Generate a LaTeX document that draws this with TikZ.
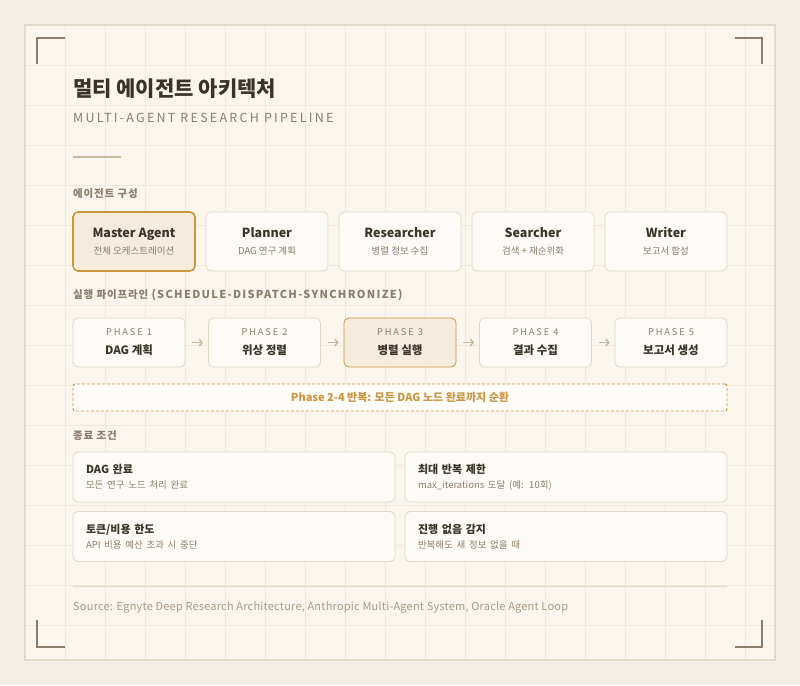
\documentclass[tikz,border=0pt]{standalone}
\usepackage{fontspec}
\setmainfont{Noto Sans CJK KR}
\usepackage{xcolor}
\usetikzlibrary{arrows.meta, positioning}

\definecolor{pagebg}{HTML}{F3EFE7}
\definecolor{cardbg}{HTML}{FAF6EE}
\definecolor{cardline}{HTML}{E2DACB}
\definecolor{gridcol}{HTML}{EFE8DB}
\definecolor{bracket}{HTML}{8B7D6B}
\definecolor{ink}{HTML}{3A3428}
\definecolor{muted}{HTML}{8B7D6B}
\definecolor{soft}{HTML}{A89A85}
\definecolor{accent}{HTML}{C8963E}
\definecolor{accentfill}{HTML}{F5ECDD}
\definecolor{boxfill}{HTML}{FDFBF7}
\definecolor{boxline}{HTML}{E2D8C6}
\definecolor{arrowcol}{HTML}{C8B89A}

\begin{document}
\begin{tikzpicture}[
    x=1pt, y=-1pt,
    % Styles
    agentbox/.style={rectangle, draw=boxline, line width=0.8pt, fill=boxfill, rounded corners=5pt, minimum width=122pt, minimum height=59pt, inner sep=0pt, align=center, text=ink, font=\fontsize{12.5}{17}\selectfont},
    masterbox/.style={agentbox, draw=accent, line width=1.6pt, fill=accentfill},
    phasebox/.style={rectangle, draw=boxline, line width=0.8pt, fill=boxfill, rounded corners=5pt, minimum width=112pt, minimum height=49pt, inner sep=0pt, align=center, text=ink, font=\fontsize{11.5}{19}\selectfont},
    activephase/.style={phasebox, draw=accent, fill=accentfill},
    loopbox/.style={rectangle, draw=accent, line width=0.9pt, dash pattern=on 3pt off 2pt, fill=accent!3, rounded corners=2pt, minimum width=654pt, minimum height=27pt, text=accent, font=\fontsize{11}{12}\selectfont\bfseries},
    condbox/.style={rectangle, draw=boxline, line width=0.8pt, fill=boxfill, rounded corners=5pt, minimum width=322pt, minimum height=50pt, inner xsep=13pt, inner ysep=0pt, text width=296pt, align=left, text=ink, font=\fontsize{11}{15}\selectfont},
    seclabel/.style={anchor=base west, inner sep=0pt, text=muted, font=\fontsize{10.5}{12}\selectfont\bfseries\addfontfeature{LetterSpace=8}},
    flowarrow/.style={-{Straight Barb[length=3pt, width=7pt]}, line width=1.3pt, draw=arrowcol, shorten <=7pt, shorten >=5pt},
    corner/.style={draw=bracket, line width=2pt},
    gridline/.style={draw=gridcol, line width=0.8pt}
]

% Page and card
\fill[pagebg] (0,0) rectangle (800,685);
\useasboundingbox (0,0) rectangle (800,685);
\filldraw[fill=cardbg, draw=cardline, line width=1.5pt] (25,25) rectangle (775,660);

% Background grid
\foreach \gx in {65,105,...,745} \draw[gridline] (\gx,26) -- (\gx,659);
\foreach \gy in {65,105,...,625} \draw[gridline] (26,\gy) -- (774,\gy);

% Corner brackets
\draw[corner] (37,64) -- (37,38) -- (65,38);
\draw[corner] (735,38) -- (762,38) -- (762,64);
\draw[corner] (37,620) -- (37,647) -- (65,647);
\draw[corner] (735,647) -- (762,647) -- (762,620);

% Header
\node[anchor=base west, inner sep=0pt, text=ink, font=\fontsize{21}{24}\selectfont\bfseries] (title) at (73,96) {멀티 에이전트 아키텍처};
\node[anchor=base west, inner sep=0pt, text=muted, font=\fontsize{12.5}{14}\selectfont\addfontfeature{LetterSpace=18}] (subtitle) at (73,122) {MULTI-AGENT RESEARCH PIPELINE};
\draw[draw=arrowcol, line width=2pt] (73,157) -- (121,157);

% Agents
\node[seclabel] (agentlabel) at (73,197.5) {에이전트 구성};

\node[masterbox] (master) at (134,241.5) {\textbf{Master Agent}\\{\fontsize{9.5}{12}\selectfont\color{muted}전체 오케스트레이션}};
\node[agentbox] (planner) at (267,241.5) {\textbf{Planner}\\{\fontsize{9.5}{12}\selectfont\color{muted}DAG 연구 계획}};
\node[agentbox] (researcher) at (400,241.5) {\textbf{Researcher}\\{\fontsize{9.5}{12}\selectfont\color{muted}병렬 정보 수집}};
\node[agentbox] (searcher) at (533,241.5) {\textbf{Searcher}\\{\fontsize{9.5}{12}\selectfont\color{muted}검색 + 재순위화}};
\node[agentbox] (writer) at (666,241.5) {\textbf{Writer}\\{\fontsize{9.5}{12}\selectfont\color{muted}보고서 합성}};

% Pipeline
\node[seclabel] (pipelabel) at (73,298.5) {실행 파이프라인 {\addfontfeature{LetterSpace=12}\fontsize{11}{12}\selectfont(SCHEDULE-DISPATCH-SYNCHRONIZE)}};

\node[phasebox] (phase1) at (129,342.5) {{\fontsize{9.3}{10}\selectfont\addfontfeature{LetterSpace=20}\color{muted}PHASE 1}\\\textbf{DAG 계획}};
\node[phasebox] (phase2) at (264.5,342.5) {{\fontsize{9.3}{10}\selectfont\addfontfeature{LetterSpace=20}\color{muted}PHASE 2}\\\textbf{위상 정렬}};
\node[activephase] (phase3) at (400,342.5) {{\fontsize{9.3}{10}\selectfont\addfontfeature{LetterSpace=20}\color{muted}PHASE 3}\\\textbf{병렬 실행}};
\node[phasebox] (phase4) at (535.5,342.5) {{\fontsize{9.3}{10}\selectfont\addfontfeature{LetterSpace=20}\color{muted}PHASE 4}\\\textbf{결과 수집}};
\node[phasebox] (phase5) at (671,342.5) {{\fontsize{9.3}{10}\selectfont\addfontfeature{LetterSpace=20}\color{muted}PHASE 5}\\\textbf{보고서 생성}};

\draw[flowarrow] (phase1.east) -- (phase2.west);
\draw[flowarrow] (phase2.east) -- (phase3.west);
\draw[flowarrow] (phase3.east) -- (phase4.west);
\draw[flowarrow] (phase4.east) -- (phase5.west);

\node[loopbox] (loop) at (400,397.5) {Phase 2-4 반복: 모든 DAG 노드 완료까지 순환};

% Stop conditions
\node[seclabel] (stoplabel) at (73,439.5) {종료 조건};

\node[condbox] (dagdone) at (234,477) {\textbf{DAG 완료}\\{\fontsize{9.5}{12}\selectfont\color{muted}모든 연구 노드 처리 완료}};
\node[condbox] (maxiter) at (566,477) {\textbf{최대 반복 제한}\\{\fontsize{9.5}{12}\selectfont\color{muted}max\_iterations 도달 (예: 10회)}};
\node[condbox] (budget) at (234,536.5) {\textbf{토큰/비용 한도}\\{\fontsize{9.5}{12}\selectfont\color{muted}API 비용 예산 초과 시 중단}};
\node[condbox] (noprogress) at (566,536.5) {\textbf{진행 없음 감지}\\{\fontsize{9.5}{12}\selectfont\color{muted}반복해도 새 정보 없을 때}};

% Footer
\draw[draw=boxline, line width=1pt] (73,586) -- (727,586);
\node[anchor=base west, inner sep=0pt, text=soft, font=\fontsize{11}{12}\selectfont\addfontfeature{LetterSpace=2}] (source) at (73,610) {Source: Egnyte Deep Research Architecture, Anthropic Multi-Agent System, Oracle Agent Loop};

\end{tikzpicture}
\end{document}
